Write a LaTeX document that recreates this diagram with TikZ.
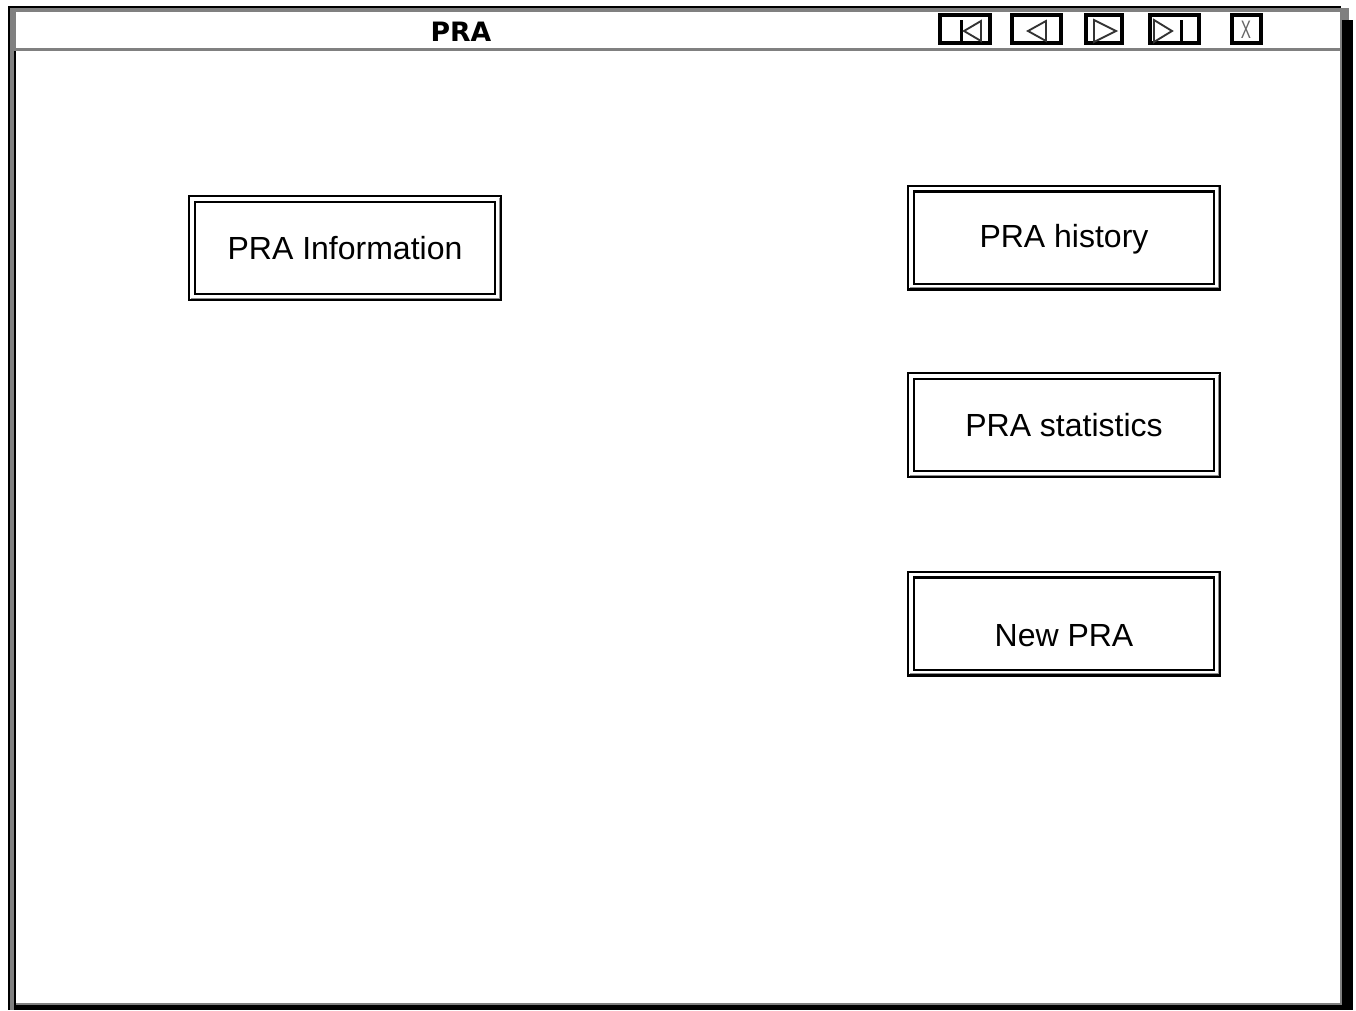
\documentclass[tikz,border=0pt]{standalone}
\usepackage{fontspec}
\setmainfont{Liberation Sans}
\newfontfamily\titlefont{DejaVu Sans}
\begin{document}
\begin{tikzpicture}[x=0.75pt,y=-0.75pt,
  edge/.style={fill=black!50, draw=none},
  dark/.style={fill=black, draw=none},
  menubox/.style={draw=black, double=white, double distance=2.4pt, line width=1.8pt,
    minimum width=229.5pt, minimum height=73.5pt, inner sep=0pt},
  menushade/.style={draw=black!45, line width=0.8pt},
  menutext/.style={font=\fontsize{24}{28}\selectfont, inner sep=0pt},
  navbox/.style={draw=black, line width=3pt, fill=white},
  navglyph/.style={draw=black!80, line width=1.4pt, line join=miter},
  navbar/.style={draw=black, line width=2.3pt},
]
% page size
\useasboundingbox (0,0) rectangle (1356,1010);
\fill[white] (0,0) rectangle (1356,1010);

% window frame
\fill[dark] (8,6) rectangle (1341,8);
\fill[dark] (8,6) rectangle (10,1010);
\fill[edge] (10,8) rectangle (1349,12);
\fill[edge] (1340,8) rectangle (1349,20);
\fill[edge] (10,8) rectangle (16,1010);
\fill[dark] (1342,20) rectangle (1353,1010);
\fill[dark] (14,1005) rectangle (1353,1010);
\fill[dark] (14,50) rectangle (16,1005);
% title bar
\fill[white] (16,12) rectangle (1340,47.5);
\fill[edge] (14,47.5) rectangle (1340,50.5);
% client area
\fill[white] (16,50.5) rectangle (1340,1003);
\fill[edge] (1340,12) rectangle (1342,1005);
\fill[edge] (16,1003) rectangle (1342,1005);

% caption
\node[font=\titlefont\bfseries\fontsize{20}{24}\selectfont, inner sep=0pt] (title) at (461,32) {PRA};

% navigation buttons
\draw[navbox] (940,15) rectangle (990,43);
\draw[navbar] (961.5,20) -- (961.5,42);
\draw[navglyph] (981,21) -- (964,31) -- (981,41) -- cycle;

\draw[navbox] (1012,15) rectangle (1061,43);
\draw[navglyph] (1046,21) -- (1028,31) -- (1046,41) -- cycle;

\draw[navbox] (1086,15) rectangle (1122,43);
\draw[navglyph] (1094,20) -- (1116,31) -- (1094,42) -- cycle;

\draw[navbox] (1150,15) rectangle (1199,43);
\draw[navglyph] (1154,20) -- (1172,31) -- (1154,42) -- cycle;
\draw[navbar] (1181.5,20) -- (1181.5,42);

\draw[navbox] (1232,15) rectangle (1261,43);
\node[font=\fontsize{19}{22}\selectfont, text=black!60, xscale=0.6, inner sep=0pt] (close) at (1246,29.5) {X};

% menu buttons
\node[menubox] (info) at (345,248) {};
\draw[menushade] (info.north east) -- (info.south east) -- (info.south west);
\node[menutext] (infot) at (info.center) {PRA Information};

\node[menubox] (hist) at (1064,237.5) {};
\draw[menushade] (hist.north east) -- (hist.south east) -- (hist.south west);
\node[menutext] (histt) at ([yshift=-1.5pt]hist.center) {PRA history};

\node[menubox] (stat) at (1064,425) {};
\draw[menushade] (stat.north east) -- (stat.south east) -- (stat.south west);
\node[menutext] (statt) at (stat.center) {PRA statistics};

\node[menubox] (new) at (1064,623.5) {};
\draw[menushade] (new.north east) -- (new.south east) -- (new.south west);
\node[menutext] (newt) at ([yshift=-9pt]new.center) {New PRA};
\end{tikzpicture}
\end{document}
